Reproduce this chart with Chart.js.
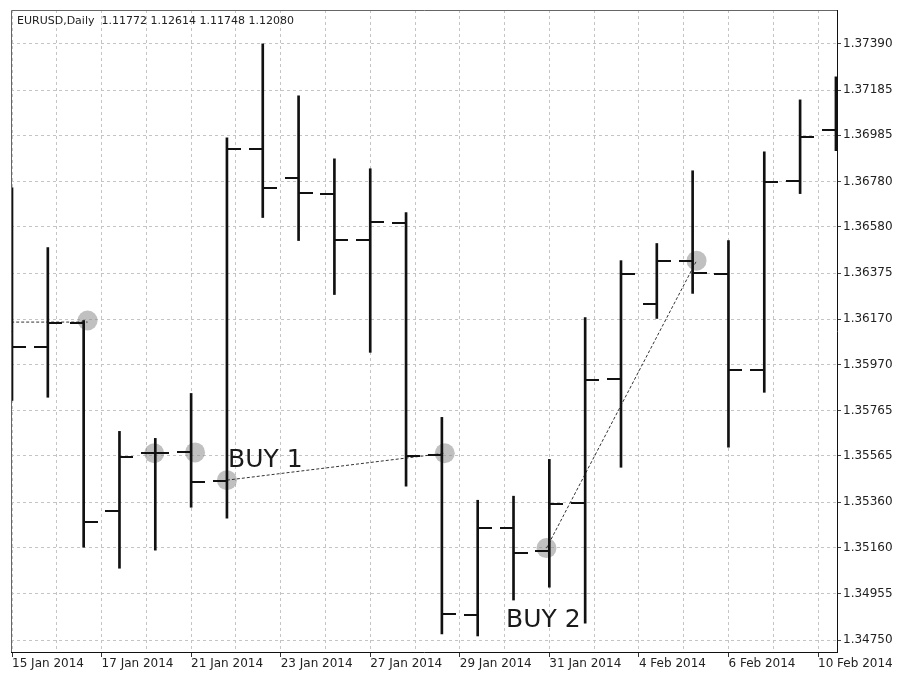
<!DOCTYPE html>
<html>
<head>
<meta charset="utf-8">
<script src="https://cdn.jsdelivr.net/npm/chart.js@4.4.1/dist/chart.umd.min.js"></script>
<style>
  html, body { margin: 0; padding: 0; background: #fff; }
</style>
</head>
<body>
<canvas id="myChart" width="897" height="673"></canvas>
<script>
// EURUSD daily bars, bar index 0..23
const dateLabels = ['15 Jan 2014', '17 Jan 2014', '21 Jan 2014', '23 Jan 2014', '27 Jan 2014',
  '29 Jan 2014', '31 Jan 2014', '4 Feb 2014', '6 Feb 2014', '10 Feb 2014']
const priceTicks = [1.37390, 1.37185, 1.36985, 1.36780, 1.36580, 1.36375, 1.36170,
  1.35970, 1.35765, 1.35565, 1.35360, 1.35160, 1.34955, 1.34750]

const opens = [1.35950, 1.36046, 1.36156, 1.35321, 1.35577, 1.35581, 1.35453, 1.36926, 1.36797, 1.36727,
  1.36523, 1.36598, 1.35568, 1.34861, 1.35245, 1.35144, 1.35356, 1.35904, 1.36236, 1.36430,
  1.36373, 1.35944, 1.36784, 1.37010]
const highs = [1.36753, 1.36488, 1.36165, 1.35674, 1.35643, 1.35842, 1.36974, 1.37390, 1.37160, 1.36881,
  1.36837, 1.36643, 1.35736, 1.35369, 1.35387, 1.35550, 1.36178, 1.36430, 1.36506, 1.36828,
  1.36519, 1.36912, 1.37142, 1.37244]
const lows = [1.35811, 1.35825, 1.35161, 1.35068, 1.35148, 1.35338, 1.35290, 1.36621, 1.36519, 1.36280,
  1.36024, 1.35431, 1.34777, 1.34768, 1.34927, 1.34984, 1.34825, 1.35515, 1.36174, 1.36285,
  1.35604, 1.35847, 1.36727, 1.36917]
const closes = [1.36046, 1.36152, 1.35272, 1.35559, 1.35577, 1.35449, 1.36926, 1.36753, 1.36731, 1.36523,
  1.36603, 1.35564, 1.34865, 1.35245, 1.35135, 1.35351, 1.35900, 1.36373, 1.36430, 1.36377,
  1.35944, 1.36780, 1.36979, 1.37050]

// trade marks (bar position, price)
const tradeX = [2.11, 3.97, 5.11, 6.0, 12.08, 14.92, 19.11]
const tradePrice = [1.36165, 1.35577, 1.35581, 1.35458, 1.35577, 1.35157, 1.36430]

// dotted trend lines
const lineStart = [[-1, 1.36158], [6.0, 1.35458], [14.92, 1.35157]]
const lineEnd = [[2.11, 1.36158], [12.08, 1.35577], [19.11, 1.36430]]

// text labels: text, bar position, price at baseline
const noteText = ['BUY 1', 'BUY 2']
const noteX = [6.03, 13.79]
const notePrice = [1.35515, 1.34808]

const header = 'EURUSD,Daily  1.11772 1.12614 1.11748 1.12080'

// small canvases used as point styles for open / close ticks
function makeTick(side) {
  const c = document.createElement('canvas')
  c.width = 28
  c.height = 2
  const g = c.getContext('2d')
  g.fillStyle = '#111'
  if (side === 'left') g.fillRect(0, 0, 14, 2)
  else g.fillRect(14, 0, 14, 2)
  return c
}
const openTick = makeTick('left')
const closeTick = makeTick('right')

const isLabelTick = v => Math.abs(v / 2.5 - Math.round(v / 2.5)) < 1e-6

const overlay = {
  id: 'overlay',
  afterDraw(chart) {
    const { ctx, chartArea, scales } = chart
    ctx.save()
    // left and top frame
    ctx.strokeStyle = '#666'
    ctx.lineWidth = 1
    ctx.beginPath()
    ctx.moveTo(chartArea.left + 0.5, chartArea.bottom)
    ctx.lineTo(chartArea.left + 0.5, chartArea.top + 0.5)
    ctx.lineTo(chartArea.right, chartArea.top + 0.5)
    ctx.stroke()

    ctx.fillStyle = '#222'
    ctx.font = '11px "DejaVu Sans"'
    ctx.textBaseline = 'middle'
    ctx.fillText(header, 17, 21)

    ctx.font = '25px "DejaVu Sans"'
    ctx.textBaseline = 'alphabetic'
    ctx.fillStyle = '#1a1a1a'
    noteText.forEach((t, i) => {
      ctx.fillText(t, scales.x.getPixelForValue(noteX[i]), scales.y.getPixelForValue(notePrice[i]))
    })
    ctx.restore()
  }
}

const trendSets = lineStart.map((s, i) => ({
  type: 'line',
  data: [{ x: s[0], y: s[1] }, { x: lineEnd[i][0], y: lineEnd[i][1] }],
  borderColor: '#333',
  borderWidth: 1,
  borderDash: [3, 2],
  pointRadius: 0,
  order: 2
}))

const ctx = document.getElementById('myChart')

new Chart(ctx, {
  type: 'bar',
  data: {
    datasets: [
      {
        type: 'bar',
        data: lows.map((l, i) => ({ x: i, y: [l, highs[i]] })),
        backgroundColor: '#111',
        barThickness: 2,
        order: 1
      },
      {
        type: 'line',
        data: opens.map((o, i) => ({ x: i, y: o })),
        showLine: false,
        pointStyle: openTick,
        pointRadius: 1,
        order: 1
      },
      {
        type: 'line',
        data: closes.map((c, i) => ({ x: i, y: c })),
        showLine: false,
        pointStyle: closeTick,
        pointRadius: 1,
        order: 1
      },
      {
        type: 'line',
        data: tradeX.map((x, i) => ({ x: x, y: tradePrice[i] })),
        showLine: false,
        pointRadius: 10,
        pointBackgroundColor: 'rgba(140,140,140,0.55)',
        pointBorderWidth: 0,
        order: 5
      },
      ...trendSets
    ]
  },
  options: {
    responsive: false,
    animation: false,
    events: [],
    layout: { padding: { left: 11, top: 9, right: 0, bottom: 0 } },
    plugins: {
      legend: { display: false },
      tooltip: { enabled: false }
    },
    scales: {
      x: {
        type: 'linear',
        offset: false,
        min: -0.028,
        max: 23.03,
        afterBuildTicks: s => {
          const t = []
          for (let k = 0; k * 1.25 <= 23; k++) t.push({ value: k * 1.25 })
          s.ticks = t
        },
        afterFit: s => { s.height = 21 },
        grid: {
          offset: false,
          color: '#c4c4c4',
          tickLength: 5,
          tickColor: c => (c.tick && isLabelTick(c.tick.value)) ? '#333' : 'rgba(0,0,0,0)'
        },
        border: { color: '#111', width: 1, dash: [3, 3] },
        ticks: {
          autoSkip: false,
          maxRotation: 0,
          align: 'start',
          padding: 0,
          color: '#222',
          font: { family: 'DejaVu Sans', size: 12 },
          callback: v => isLabelTick(v) ? dateLabels[Math.round(v / 2.5)] : ''
        }
      },
      y: {
        position: 'right',
        min: 1.34697,
        max: 1.37540,
        afterBuildTicks: s => { s.ticks = priceTicks.map(v => ({ value: v })) },
        afterFit: s => { s.width = 60 },
        grid: { color: '#c4c4c4', tickLength: 4, tickColor: '#444' },
        border: { color: '#111', width: 1, dash: [3, 3] },
        ticks: {
          padding: 2,
          color: '#222',
          font: { family: 'DejaVu Sans', size: 12 },
          callback: v => v.toFixed(5)
        }
      }
    }
  },
  plugins: [overlay]
})
</script>
</body>
</html>
